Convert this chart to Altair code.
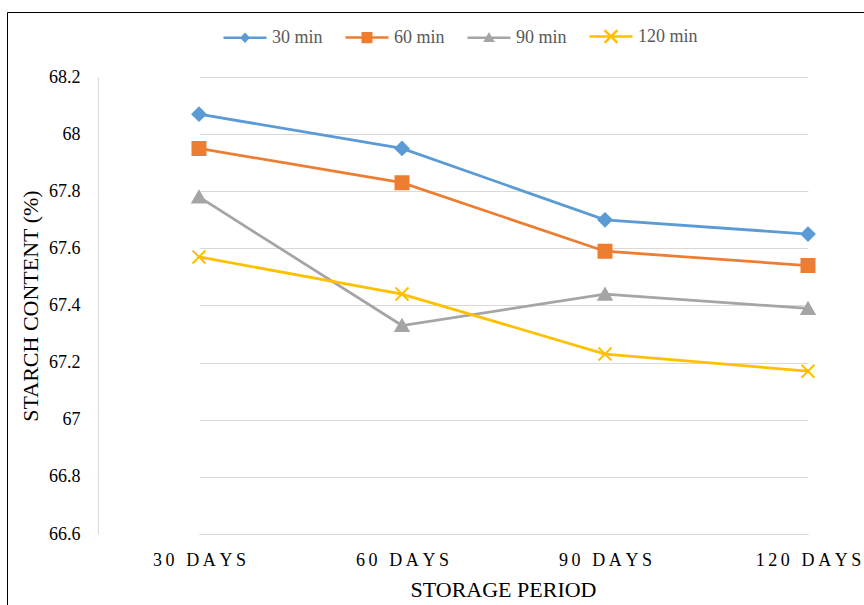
import altair as alt
import pandas as pd

# Storage periods (x categories) and cooking-time series
periods = ["30 DAYS", "60 DAYS", "90 DAYS", "120 DAYS"]
series = ["30 min", "60 min", "90 min", "120 min"]

# Starch content (%) per series across the storage periods
starch_30 = [68.07, 67.95, 67.70, 67.65]
starch_60 = [67.95, 67.83, 67.59, 67.54]
starch_90 = [67.78, 67.33, 67.44, 67.39]
starch_120 = [67.57, 67.44, 67.23, 67.17]

y_ticks = [66.6, 66.8, 67.0, 67.2, 67.4, 67.6, 67.8, 68.0, 68.2]
colors = ["#5B9BD5", "#ED7D31", "#A5A5A5", "#FFC000"]

rows = []
for name, vals in zip(series, [starch_30, starch_60, starch_90, starch_120]):
    for p, v in zip(periods, vals):
        rows.append({"series": name, "period": p, "value": v, "key": name})
df = pd.DataFrame(rows)

FONT = "Liberation Serif"
GRID = "#d9d9d9"
THIN = "\u2009"

# Plot-area markers
marker_shapes = ["diamond", "square", "triangle-up", "M-1,-1L1,1M-1,1L1,-1"]
marker_sizes = [169, 169, 196, 169]

# Legend keys: a short line with the series marker on it
legend_shapes = [
    "M-0.935,0H0.935M0,-0.15L0.14,0L0,0.15L-0.14,0Z",
    "M-0.935,0H0.935M-0.185,-0.185H0.185V0.185H-0.185Z",
    "M-0.935,0H0.935M0,-0.14L0.16,0.13L-0.16,0.13Z",
    "M-0.935,0H0.935M-0.28,-0.28L0.28,0.28M-0.28,0.28L0.28,-0.28",
]

x_enc = alt.X(
    "period:O",
    sort=periods,
    scale=alt.Scale(type="point", domain=periods, range=[101, 710], padding=0),
    axis=alt.Axis(
        title="STORAGE PERIOD",
        labelExpr="join(split(datum.label, ''), '" + THIN + "')",
        labelAngle=0,
        ticks=False,
        grid=False,
        domainColor=GRID,
        domainWidth=1,
        labelPadding=17,
        labelFont=FONT,
        labelFontSize=18,
        labelColor="#000000",
        titleFont=FONT,
        titleFontSize=22,
        titleFontWeight="normal",
        titleColor="#000000",
        titleX=405,
        titleY=62,
        titleBaseline="alphabetic",
    ),
)

y_enc = alt.Y(
    "value:Q",
    scale=alt.Scale(domain=[66.6, 68.2], nice=False, zero=False),
    axis=alt.Axis(
        title="STARCH CONTENT (%)",
        values=y_ticks,
        format=".1~f",
        ticks=False,
        grid=True,
        gridColor=GRID,
        gridWidth=1,
        domainColor=GRID,
        domainWidth=1,
        labelPadding=18,
        labelFont=FONT,
        labelFontSize=18,
        labelColor="#000000",
        titleFont=FONT,
        titleFontSize=22,
        titleFontWeight="normal",
        titleColor="#000000",
        titleX=-61,
        titleBaseline="alphabetic",
    ),
)

base = alt.Chart(df).encode(x=x_enc, y=y_enc)

lines = base.mark_line(strokeWidth=2.75).encode(
    color=alt.Color("series:N", scale=alt.Scale(domain=series, range=colors), legend=None),
    detail="series:N",
)

markers = base.mark_point(filled=True, opacity=1, strokeWidth=2).encode(
    fill=alt.Fill("series:N", scale=alt.Scale(domain=series, range=colors), legend=None),
    stroke=alt.Stroke("series:N", scale=alt.Scale(domain=series, range=colors), legend=None),
    shape=alt.Shape("series:N", scale=alt.Scale(domain=series, range=marker_shapes), legend=None),
    size=alt.Size("series:N", scale=alt.Scale(domain=series, range=marker_sizes), legend=None),
)

legend_cfg = alt.Legend(
    title=None,
    orient="none",
    direction="horizontal",
    legendX=122.5,
    legendY=-65,
    padding=0,
    symbolSize=2116,
    symbolStrokeWidth=2.5,
    symbolOpacity=1,
    labelFont=FONT,
    labelFontSize=18,
    labelColor="#595959",
    labelOffset=2.5,
    columnPadding=16,
)

legend_layer = (
    base.mark_point(filled=True, opacity=1, strokeWidth=2.5, size=2116)
    .encode(
        fill=alt.Fill("key:N", scale=alt.Scale(domain=series, range=colors), legend=legend_cfg),
        stroke=alt.Stroke("key:N", scale=alt.Scale(domain=series, range=colors), legend=legend_cfg),
        shape=alt.Shape("key:N", scale=alt.Scale(domain=series, range=legend_shapes), legend=legend_cfg),
    )
    .transform_filter("datum.value > 1000")
)

# Outer chart frame (left and top edges)
one = alt.Data(values=[{}])
frame_left = alt.Chart(one).mark_rule(color="#000000", strokeWidth=1).encode(
    x=alt.value(-90.5), y=alt.value(-64.5), y2=alt.value(528)
)
frame_top = alt.Chart(one).mark_rule(color="#000000", strokeWidth=1).encode(
    x=alt.value(-90.5), x2=alt.value(766), y=alt.value(-64.5)
)

chart = (
    alt.layer(lines, markers, legend_layer, frame_left, frame_top)
    .resolve_scale(color="independent", fill="independent", stroke="independent",
                   shape="independent", size="independent")
    .properties(
        width=766,
        height=457,
        padding={"left": 98, "top": 77, "right": 0, "bottom": 71},
        autosize=alt.AutoSizeParams(type="none"),
        background="#ffffff",
    )
    .configure_view(stroke=None)
    .configure_axis(labelFont=FONT, titleFont=FONT)
    .configure_legend(labelFont=FONT)
)

chart.save("out.html", embed_options={"renderer": "svg", "actions": False})
